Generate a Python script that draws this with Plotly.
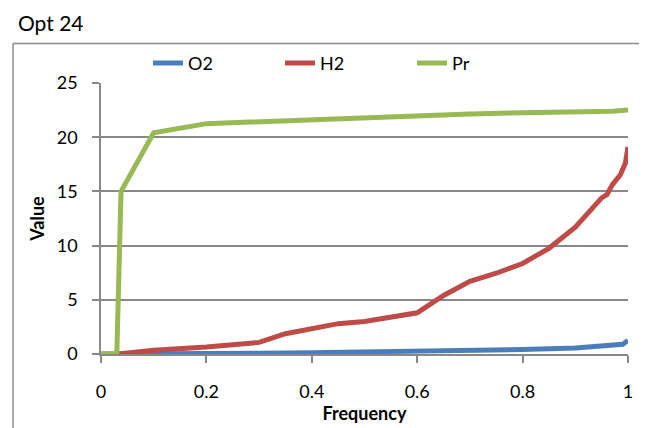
import plotly.graph_objects as go

# Data
o2_x = [0, 0.04, 0.1, 0.2, 0.3, 0.4, 0.5, 0.6, 0.7, 0.8, 0.9, 0.97, 0.99, 1.0]
o2_y = [0, 0, 0.02, 0.05, 0.08, 0.12, 0.17, 0.23, 0.31, 0.42, 0.56, 0.75, 0.9, 1.25]

h2_x = [0.033, 0.1, 0.2, 0.3, 0.35, 0.4, 0.45, 0.5, 0.55, 0.6, 0.65, 0.7, 0.75,
        0.8, 0.85, 0.9, 0.95, 0.96, 0.97, 0.985, 0.995, 1.0]
h2_y = [0, 0.35, 0.65, 1.07, 1.87, 2.3, 2.8, 3.0, 3.4, 3.8, 5.4, 6.7, 7.45,
        8.35, 9.75, 11.7, 14.4, 14.7, 15.6, 16.5, 17.6, 19.1]

pr_x = [0, 0.03, 0.038, 0.1, 0.2, 0.3, 0.4, 0.5, 0.6, 0.7, 0.8, 0.9, 0.97, 1.0]
pr_y = [0, 0, 15.0, 20.4, 21.25, 21.45, 21.6, 21.85, 22.0, 22.15, 22.25, 22.3, 22.4, 22.5]

x_ticks = [0, 0.2, 0.4, 0.6, 0.8, 1]
x_tick_labels = ["0", "0.2", "0.4", "0.6", "0.8", "1"]
y_ticks = [0, 5, 10, 15, 20, 25]

FONT = "Lato"
GRID = "#888888"

# the page body adds an 8px offset, so the figure is drawn 8px smaller
W, H = 639, 420
L, T = 93, 74.7
PW, PH = 527, 271.6

fig = go.Figure()
for name, xs, ys, col in [("O2", o2_x, o2_y, "#4A7EBB"),
                          ("H2", h2_x, h2_y, "#BE4B48"),
                          ("Pr", pr_x, pr_y, "#98B954")]:
    fig.add_trace(go.Scatter(x=xs, y=ys, name=name, mode="lines",
                             line=dict(color=col, width=5),
                             cliponaxis=False))

fig.update_layout(
    width=W, height=H,
    margin=dict(l=L, r=W - L - PW, t=T, b=H - T - PH, autoexpand=False),
    paper_bgcolor="white", plot_bgcolor="white",
    font=dict(family=FONT, size=18, color="black"),
    title=dict(text="Opt 24", x=10 / W, xanchor="left", xref="container",
               y=1 - 16 / H, yanchor="middle", yref="container",
               font=dict(family=FONT, size=21, color="black")),
    legend=dict(orientation="h", x=(140 - L) / PW, y=1 + (T - 55) / PH,
                xanchor="left", yanchor="middle",
                entrywidth=87, entrywidthmode="pixels",
                font=dict(family=FONT, size=18), bgcolor="rgba(0,0,0,0)"),
    showlegend=True,
)

fig.update_xaxes(range=[0, 1], tickvals=x_ticks, ticktext=x_tick_labels,
                 showgrid=False, zeroline=False, showline=True,
                 linecolor=GRID, linewidth=1.5, ticks="outside", ticklen=7,
                 tickcolor=GRID, tickwidth=1.5, ticklabelstandoff=14,
                 title=dict(text="<b>Frequency</b>", standoff=2,
                            font=dict(family=FONT, size=18)))
fig.update_yaxes(range=[0, 25], tickvals=y_ticks, showgrid=True,
                 gridcolor=GRID, gridwidth=1.6, zeroline=False, showline=True,
                 linecolor=GRID, linewidth=1.5, ticks="outside", ticklen=7,
                 tickcolor=GRID, tickwidth=1.5, ticklabelstandoff=11,
                 title=dict(text="<b>Value</b>", standoff=7,
                            font=dict(family=FONT, size=18)))

# outer chart frame (left and top edges visible in reference)
fx = (5 - L) / PW
fy = (T + PH - 35) / PH
fig.add_shape(type="line", xref="paper", yref="paper",
              x0=fx, x1=fx, y0=-0.5, y1=fy,
              line=dict(color="#8c8c8c", width=1.5))
fig.add_shape(type="line", xref="paper", yref="paper",
              x0=fx, x1=1.2, y0=fy, y1=fy,
              line=dict(color="#8c8c8c", width=1.5))

fig.write_html("out.html")
